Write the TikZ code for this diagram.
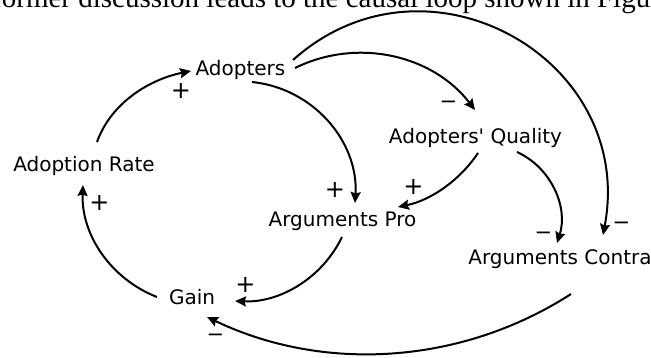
\documentclass[tikz,border=0pt]{standalone}
\usepackage{fontspec}
\newfontfamily\diagfont{DejaVu Sans}
\newfontfamily\bodyfont{Liberation Serif}
\usetikzlibrary{arrows.meta}
\begin{document}
\begin{tikzpicture}[x=1pt, y=-1pt,
  var/.style={anchor=base, inner sep=0pt, font=\diagfont\fontsize{20}{24}\selectfont},
  sign/.style={inner sep=0pt, font=\diagfont\fontsize{24}{28}\selectfont},
  negsign/.style={inner sep=0pt, yshift=-4pt, font=\diagfont\fontsize{21}{25}\selectfont},
  link/.style={line width=2pt, -{Stealth[length=11pt, width=10pt, inset=1.5pt]}}]
\useasboundingbox (0,0) rectangle (651,358);

% running text of the page, cut by the top edge
\begin{scope}
  \clip (0,0) rectangle (651,358);
  \node[anchor=base west, inner sep=0pt, font=\bodyfont\fontsize{29}{33}\selectfont] (intro) at (-8,8)
    {former discussion leads to the causal loop shown in Figure};
\end{scope}

% variables of the causal loop
\node[var] (adopters) at (240.5,76)  {Adopters};
\node[var] (rate)     at (84,172)    {Adoption Rate};
\node[var] (quality)  at (475.5,144) {Adopters\textquotesingle{} Quality};
\node[var] (pro)      at (342.5,227) {Arguments Pro};
\node[var] (contra)   at (560,265)   {Arguments Contra};
\node[var] (gain)     at (192,305)   {Gain};

% causal links
\draw[link] ([shift={(13,-30)}]rate.base)
  .. controls +(14.4,-40.2) and +(-40,8) .. ([shift={(-49.5,-5)}]adopters.base);
\draw[link] ([shift={(11.5,6)}]adopters.base)
  .. controls +(61.2,6.2) and +(3.6,-61.4) .. ([shift={(12.5,-24)}]pro.base);
\draw[link] ([shift={(54.5,-8)}]adopters.base)
  .. controls +(62.4,-30.7) and +(-42.3,-55.1) .. ([shift={(-0.5,-34)}]quality.base);
\draw[link] ([shift={(52.5,-16)}]adopters.base)
  .. controls +(133.7,-119.7) and +(33.4,-176.4) .. ([shift={(43,-30)}]contra.base);
\draw[link] ([shift={(2.5,9)}]quality.base)
  .. controls +(-18.6,27.8) and +(32.7,-6.8) .. ([shift={(55.5,-20)}]pro.base);
\draw[link] ([shift={(41.5,8)}]quality.base)
  .. controls +(34.2,15.6) and +(11.4,-35.8) .. ([shift={(-3,-22)}]contra.base);
\draw[link] ([shift={(-0.5,10)}]pro.base)
  .. controls +(-19.7,40.8) and +(45.3,1.9) .. ([shift={(43,-4)}]gain.base);
\draw[link] ([shift={(11,29)}]contra.base)
  .. controls +(-109.2,70.4) and +(117.2,56.1) .. ([shift={(15,12)}]gain.base);
\draw[link] ([shift={(-35,-8)}]gain.base)
  .. controls +(-46.2,-18) and +(-2,49.6) .. ([shift={(-1,13)}]rate.base);

% polarities
\node[sign]    (s1) at (181,90.5)    {+};
\node[sign]    (s2) at (99.5,203)    {+};
\node[sign]    (s3) at (335,190)     {+};
\node[sign]    (s4) at (413.5,186.5) {+};
\node[negsign] (s5) at (448.5,101)   {−};
\node[negsign] (s6) at (543.5,232)   {−};
\node[negsign] (s7) at (621.5,222)   {−};
\node[sign]    (s8) at (245.5,285)   {+};
\node[negsign] (s9) at (215.5,334)   {−};
\end{tikzpicture}
\end{document}
